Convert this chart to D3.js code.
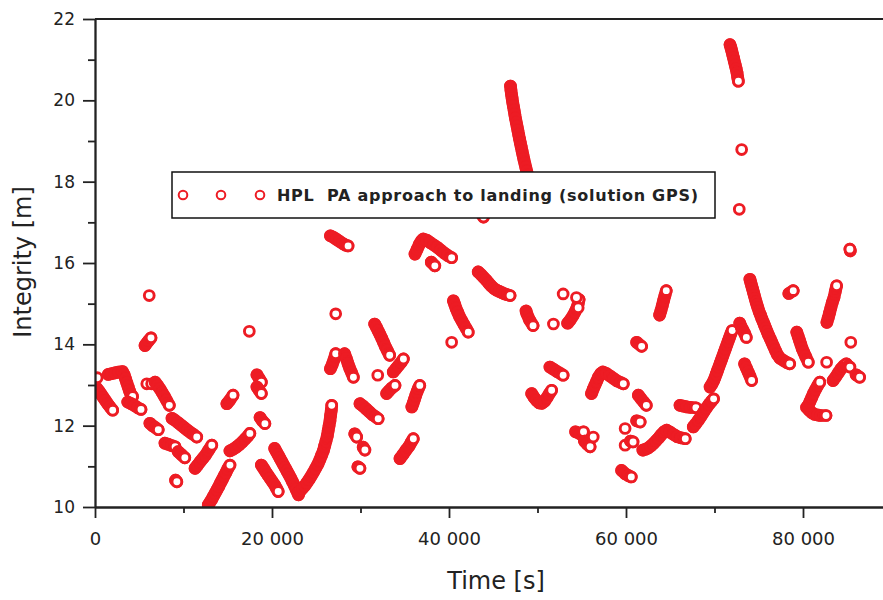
<!DOCTYPE html>
<html>
<head>
<meta charset="utf-8">
<script src="https://cdn.jsdelivr.net/npm/d3@7"></script>
<style>
  html, body { margin: 0; padding: 0; background: #fff; }
  svg { display: block; }
</style>
</head>
<body>
<svg id="chart" width="883" height="600"></svg>
<script>
// ── DATA ─────────────────────────────────────────────────────────────────────
// each run: consecutive epochs [time in thousands of seconds, HPL in metres]
const runs0to20k = [
  [[0.25,13.18]],
  [[0.2,12.92],[0.45,12.85],[0.7,12.77],[0.95,12.69],[1.2,12.61],[1.45,12.53],[1.7,12.46],[2.0,12.38]],
  [[1.5,13.26],[1.9,13.28],[2.3,13.3],[2.7,13.32],[3.1,13.33],[3.3,13.25],[3.45,13.15],[3.6,13.05],[3.75,12.95],[3.9,12.85],[4.05,12.77],[4.25,12.72]],
  [[3.7,12.58],[4.1,12.54],[4.5,12.49],[4.85,12.44],[5.2,12.4]],
  [[5.65,13.97],[5.85,14.03],[6.1,14.1],[6.33,14.16]],
  [[5.85,13.03]], [[6.4,13.03]],
  [[6.13,15.2]],
  [[6.2,12.06],[6.5,12.0],[6.85,11.95],[7.15,11.9]],
  [[6.8,13.07],[7.1,12.98],[7.35,12.9],[7.6,12.81],[7.85,12.72],[8.1,12.62],[8.4,12.5]],
  [[7.9,11.57],[8.3,11.54],[8.65,11.51],[9.05,11.48]],
  [[8.7,12.18],[9.05,12.13],[9.4,12.07],[9.75,12.01],[10.1,11.95],[10.45,11.89],[10.8,11.83],[11.15,11.78],[11.5,11.72]],
  [[9.1,10.66],[9.25,10.62]],
  [[9.4,11.36],[9.75,11.29],[10.15,11.21]],
  [[11.3,10.95],[11.6,11.03],[11.9,11.12],[12.2,11.2],[12.5,11.28],[12.85,11.4],[13.2,11.52]],
  [[12.8,10.05],[13.0,10.12],[13.2,10.19],[13.4,10.27],[13.6,10.35],[13.8,10.43],[14.0,10.51],[14.2,10.6],[14.4,10.68],[14.6,10.77],[14.8,10.85],[15.0,10.94],[15.25,11.03]],
  [[14.9,12.54],[15.2,12.62],[15.6,12.75]],
  [[15.25,11.38],[15.6,11.42],[15.95,11.47],[16.3,11.53],[16.65,11.6],[17.0,11.68],[17.3,11.75],[17.5,11.81]],
  [[17.44,14.32]],
  [[18.3,13.25],[18.55,13.16],[18.8,13.07]],
  [[18.3,12.95],[18.55,12.87],[18.8,12.79]],
  [[18.65,12.2],[18.9,12.12],[19.2,12.05]],
  [[18.8,11.03],[19.05,10.95],[19.3,10.86],[19.55,10.78],[19.8,10.7],[20.05,10.62],[20.3,10.54],[20.5,10.46],[20.7,10.38]]
];

const runs20to40k = [
  [[20.3,11.44],[20.5,11.36],[20.7,11.28],[20.9,11.2],[21.1,11.12],[21.3,11.04],[21.5,10.96],[21.7,10.88],[21.9,10.8],[22.1,10.72],[22.3,10.63],[22.5,10.54],[22.75,10.42],[23.0,10.3]],
  [[23.0,10.35],[23.2,10.4],[23.45,10.46],[23.7,10.52],[23.95,10.6],[24.2,10.68],[24.45,10.77],[24.7,10.86],[24.95,10.96],[25.2,11.06],[25.4,11.16],[25.6,11.27],[25.8,11.38],[25.95,11.5],[26.1,11.62],[26.25,11.75],[26.35,11.88],[26.45,12.0],[26.55,12.12],[26.62,12.25],[26.7,12.38],[26.75,12.5]],
  [[26.6,13.4],[26.8,13.5],[27.0,13.62],[27.2,13.77]],
  [[26.6,16.67],[26.95,16.63],[27.3,16.58],[27.65,16.53],[28.0,16.48],[28.3,16.44],[28.6,16.42]],
  [[27.2,14.75]],
  [[28.2,13.77],[28.4,13.65],[28.6,13.52],[28.8,13.4],[29.0,13.3],[29.2,13.19]],
  [[29.35,11.8],[29.57,11.72]],
  [[29.7,10.99],[29.94,10.95]],
  [[29.94,12.54],[30.3,12.48],[30.65,12.41],[31.0,12.34],[31.35,12.27],[31.7,12.22],[32.0,12.17]],
  [[30.3,11.47],[30.5,11.4]],
  [[31.6,14.5],[31.8,14.42],[32.0,14.33],[32.2,14.24],[32.4,14.15],[32.6,14.05],[32.8,13.95],[33.05,13.84],[33.3,13.73]],
  [[31.95,13.24]],
  [[32.95,12.79],[33.2,12.85],[33.5,12.92],[33.9,12.99]],
  [[33.7,13.32],[34.0,13.4],[34.3,13.48],[34.6,13.56],[34.85,13.64]],
  [[34.46,11.19],[34.8,11.29],[35.15,11.4],[35.5,11.5],[35.75,11.6],[35.97,11.68]],
  [[35.8,12.46],[35.95,12.55],[36.1,12.65],[36.25,12.75],[36.4,12.84],[36.55,12.92],[36.7,12.99]],
  [[36.16,16.22],[36.4,16.34],[36.65,16.46],[36.9,16.55],[37.1,16.59],[37.5,16.56],[37.9,16.5],[38.3,16.44],[38.7,16.38],[39.1,16.31],[39.5,16.24],[39.9,16.18],[40.3,16.13]],
  [[38.0,16.02],[38.4,15.93]]
];

const runs40to60k = [
  [[40.3,14.05]],
  [[40.5,15.07],[40.65,14.98],[40.8,14.88],[41.0,14.78],[41.2,14.68],[41.45,14.58],[41.7,14.48],[41.95,14.39],[42.18,14.3]],
  [[43.3,15.78],[43.6,15.72],[43.9,15.65],[44.2,15.58],[44.5,15.5],[44.8,15.43],[45.1,15.37],[45.4,15.33],[45.7,15.3],[46.0,15.27],[46.3,15.24],[46.6,15.22],[46.9,15.2]],
  [[43.7,17.2],[43.9,17.13]],
  [[46.95,20.35],[47.0,20.25],[47.06,20.15],[47.13,20.05],[47.2,19.95],[47.28,19.85],[47.36,19.75],[47.44,19.65],[47.52,19.55],[47.61,19.45],[47.7,19.35],[47.79,19.25],[47.88,19.15],[47.97,19.05],[48.06,18.95],[48.16,18.85],[48.26,18.75],[48.36,18.65],[48.46,18.55],[48.57,18.45],[48.68,18.35],[48.79,18.25],[48.91,18.15],[49.08,18.0],[49.25,17.85]],
  [[48.7,14.82],[48.8,14.75],[49.1,14.6],[49.5,14.46]],
  [[49.34,12.79],[49.6,12.7],[49.9,12.62],[50.2,12.56],[50.5,12.55],[50.8,12.6],[51.1,12.7],[51.35,12.79],[51.6,12.87]],
  [[51.4,13.44],[51.8,13.39],[52.2,13.33],[52.6,13.28],[52.9,13.24]],
  [[51.8,14.5]],
  [[52.9,15.24]],
  [[53.4,14.52],[53.7,14.6],[54.0,14.7],[54.25,14.8],[54.45,14.9],[54.6,15.0],[54.7,15.1]],
  [[54.4,15.15]], [[54.6,14.9]],
  [[54.3,11.85],[54.8,11.8],[55.2,11.85]],
  [[55.3,11.62],[55.6,11.55],[55.95,11.48]],
  [[56.3,11.72]],
  [[56.1,12.79],[56.3,12.9],[56.5,13.0],[56.7,13.1],[56.9,13.2],[57.15,13.28],[57.4,13.32],[57.8,13.28],[58.2,13.22],[58.6,13.16],[59.0,13.1],[59.4,13.06],[59.7,13.03]],
  [[59.5,10.9],[59.9,10.82],[60.3,10.77],[60.6,10.74]],
  [[59.9,11.93]], [[59.9,11.52]]
];

const runs60to89k = [
  [[60.5,11.62],[60.8,11.6]],
  [[61.2,12.12],[61.6,12.09]],
  [[61.2,14.05],[61.77,13.95]],
  [[61.4,12.75],[61.7,12.66],[62.0,12.58],[62.3,12.5]],
  [[61.9,11.4],[62.2,11.42],[62.5,11.45],[62.8,11.5],[63.1,11.56],[63.4,11.63],[63.7,11.7],[64.0,11.78],[64.3,11.85],[64.6,11.89],[65.0,11.84],[65.4,11.78],[65.8,11.73],[66.2,11.7],[66.7,11.68]],
  [[63.8,14.72],[63.95,14.83],[64.1,14.95],[64.25,15.08],[64.4,15.2],[64.55,15.32]],
  [[66.1,12.5],[66.5,12.48],[66.9,12.46],[67.3,12.45],[67.9,12.44]],
  [[67.6,11.97],[67.9,12.05],[68.2,12.14],[68.5,12.24],[68.8,12.34],[69.1,12.44],[69.4,12.53],[69.7,12.61],[69.9,12.66]],
  [[69.5,12.95],[69.7,13.02],[69.9,13.1],[70.05,13.18],[70.2,13.27],[70.35,13.36],[70.5,13.45],[70.65,13.54],[70.8,13.63],[70.95,13.72],[71.1,13.81],[71.25,13.9],[71.4,13.99],[71.55,14.08],[71.7,14.17],[71.85,14.26],[72.0,14.34]],
  [[71.75,21.37],[71.85,21.3],[71.95,21.22],[72.05,21.13],[72.15,21.04],[72.25,20.95],[72.35,20.86],[72.45,20.77],[72.55,20.67],[72.62,20.57],[72.7,20.47]],
  [[72.8,17.32]], [[73.07,18.79]],
  [[72.85,14.52],[73.0,14.44],[73.2,14.36],[73.4,14.27],[73.6,14.17]],
  [[73.4,13.52],[73.6,13.42],[73.8,13.32],[74.0,13.22],[74.2,13.11]],
  [[74.0,15.6],[74.1,15.52],[74.2,15.44],[74.3,15.36],[74.4,15.28],[74.5,15.2],[74.6,15.12],[74.7,15.04],[74.8,14.97],[74.9,14.9],[75.05,14.8],[75.2,14.72],[75.35,14.63],[75.5,14.55],[75.65,14.47],[75.8,14.39],[75.95,14.31],[76.1,14.23],[76.3,14.14],[76.5,14.04],[76.7,13.94],[76.9,13.84],[77.1,13.75],[77.4,13.66],[77.8,13.6],[78.2,13.55],[78.5,13.52]],
  [[78.4,15.25],[78.9,15.32]],
  [[79.3,14.3],[79.45,14.2],[79.6,14.1],[79.75,14.0],[79.9,13.9],[80.1,13.8],[80.3,13.7],[80.6,13.56]],
  [[80.4,12.45],[80.7,12.38],[81.0,12.32],[81.3,12.28],[81.7,12.26],[82.0,12.25],[82.6,12.25]],
  [[80.6,12.5],[80.8,12.6],[81.0,12.7],[81.2,12.8],[81.45,12.9],[81.7,13.0],[81.9,13.07]],
  [[82.67,13.56]],
  [[82.7,14.54],[82.85,14.65],[83.0,14.77],[83.15,14.9],[83.3,15.02],[83.5,15.15],[83.65,15.3],[83.8,15.44]],
  [[83.4,13.11],[83.7,13.2],[84.0,13.3],[84.3,13.4],[84.6,13.47],[84.9,13.52]],
  [[85.1,13.47],[85.3,13.44]],
  [[86.0,13.25],[86.4,13.19]],
  [[85.35,16.3],[85.3,16.34]],
  [[85.4,14.05]]
];

const xMajorTicks = [0, 20000, 40000, 60000, 80000];
const xMinorTicks = [10000, 30000, 50000, 70000];
const yMajorTicks = [10, 12, 14, 16, 18, 20, 22];
const yMinorTicks = [11, 13, 15, 17, 19, 21];
const legendLabel = 'HPL  PA approach to landing (solution GPS)';

// ── SETUP ────────────────────────────────────────────────────────────────────
const RED = '#ed1c24';
const INK = '#222';
const FONT = '"DejaVu Sans", Verdana, sans-serif';
const M = { left: 95, right: 883, top: 19, bottom: 507 };
const R = 4.9, SW = 2.9;          // marker radius and ring width

const svg = d3.select('#chart');

const x = d3.scaleLinear().domain([0, 89040]).range([M.left, M.right]);
const y = d3.scaleLinear().domain([10, 22]).range([M.bottom, M.top]);

const fmt = d3.formatLocale({ decimal: '.', thousands: ' ', grouping: [3], currency: ['', ''] }).format(',');

svg.append('defs').append('clipPath').attr('id', 'plot-clip')
  .append('rect')
  .attr('x', M.left).attr('y', M.top)
  .attr('width', M.right - M.left).attr('height', M.bottom - M.top);

// ── POINTS ───────────────────────────────────────────────────────────────────
// overlapping ring markers merge into solid bands; only the last one of a run keeps its white centre
const runs = [...runs0to20k, ...runs20to40k, ...runs40to60k, ...runs60to89k];
const line = d3.line().x(d => x(d[0] * 1000)).y(d => y(d[1]));

const runG = svg.append('g')
  .attr('clip-path', 'url(#plot-clip)')
  .selectAll('g.run')
  .data(runs)
  .join('g')
  .attr('class', 'run');

runG.filter(d => d.length > 1)
  .append('path')
  .attr('d', line)
  .attr('fill', 'none')
  .attr('stroke', RED)
  .attr('stroke-width', 2 * R + SW)
  .attr('stroke-linecap', 'round')
  .attr('stroke-linejoin', 'round');

runG.selectAll('circle')
  .data(d => d.map((p, i) => ({ p, last: i === d.length - 1 })))
  .join('circle')
  .attr('cx', d => x(d.p[0] * 1000))
  .attr('cy', d => y(d.p[1]))
  .attr('r', R)
  .attr('fill', d => d.last ? '#fff' : 'none')
  .attr('stroke', RED)
  .attr('stroke-width', SW);

// ── AXES ─────────────────────────────────────────────────────────────────────
function styleAxis(sel) {
  sel.selectAll('.domain').attr('stroke', INK).attr('stroke-width', 1.8);
  sel.selectAll('.tick line').attr('stroke', INK).attr('stroke-width', 1.8);
  sel.selectAll('.tick text')
    .attr('fill', INK)
    .style('font-family', FONT);
}

const xAxis = svg.append('g')
  .attr('transform', `translate(0,${M.bottom})`)
  .call(d3.axisBottom(x).tickValues(xMajorTicks).tickFormat(fmt).tickSize(11).tickSizeOuter(0).tickPadding(14))
  .call(styleAxis);
xAxis.selectAll('.tick text').style('font-size', '18px');

svg.append('g')
  .attr('transform', `translate(0,${M.bottom})`)
  .call(d3.axisBottom(x).tickValues(xMinorTicks).tickFormat('').tickSize(6).tickSizeOuter(0))
  .call(styleAxis);

const yAxis = svg.append('g')
  .attr('transform', `translate(${M.left},0)`)
  .call(d3.axisLeft(y).tickValues(yMajorTicks).tickSize(12).tickSizeOuter(0).tickPadding(8))
  .call(styleAxis);
yAxis.selectAll('.tick text').style('font-size', '17px');

svg.append('g')
  .attr('transform', `translate(${M.left},0)`)
  .call(d3.axisLeft(y).tickValues(yMinorTicks).tickFormat('').tickSize(7).tickSizeOuter(0))
  .call(styleAxis);

// top frame line
svg.append('line')
  .attr('x1', M.left).attr('x2', M.right)
  .attr('y1', M.top).attr('y2', M.top)
  .attr('stroke', INK).attr('stroke-width', 1.8);

// ── TITLES ───────────────────────────────────────────────────────────────────
svg.append('text')
  .attr('x', 496).attr('y', 589)
  .attr('text-anchor', 'middle')
  .style('font-family', FONT).style('font-size', '24px')
  .attr('fill', INK)
  .text('Time [s]');

svg.append('text')
  .attr('transform', 'translate(31,262) rotate(-90)')
  .attr('text-anchor', 'middle')
  .style('font-family', FONT).style('font-size', '24px')
  .attr('fill', INK)
  .text('Integrity [m]');

// ── LEGEND ───────────────────────────────────────────────────────────────────
const legend = svg.append('g');
legend.append('rect')
  .attr('x', 172).attr('y', 172).attr('width', 543).attr('height', 46)
  .attr('fill', '#fff').attr('stroke', '#111').attr('stroke-width', 1.5);

legend.selectAll('circle.key')
  .data([183, 221, 260])
  .join('circle')
  .attr('class', 'key')
  .attr('cx', d => d).attr('cy', 195)
  .attr('r', 4.3)
  .attr('fill', '#fff').attr('stroke', RED).attr('stroke-width', 2);

legend.append('text')
  .attr('x', 277).attr('y', 201)
  .attr('textLength', 421).attr('lengthAdjust', 'spacing')
  .style('white-space', 'pre')
  .style('font-family', FONT).style('font-size', '16px').style('font-weight', 'bold')
  .attr('fill', '#222')
  .text(legendLabel);
</script>
</body>
</html>
